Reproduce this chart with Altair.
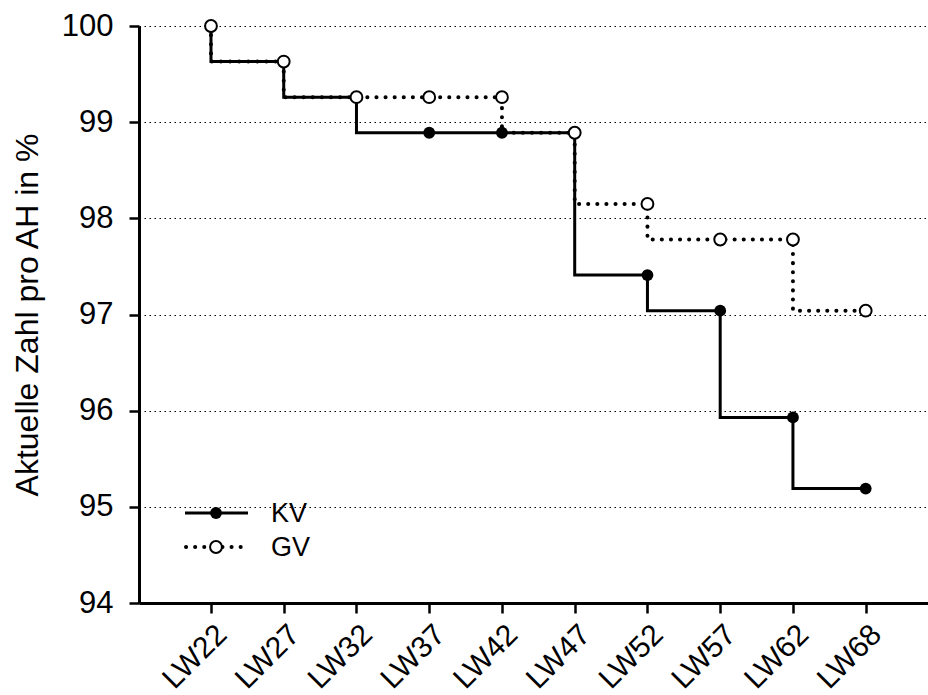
import altair as alt
import pandas as pd

weeks = ["LW22", "LW27", "LW32", "LW37", "LW42", "LW47", "LW52", "LW57", "LW62", "LW68"]
kv = [100.0, 99.63, 99.26, 98.89, 98.89, 98.89, 97.41, 97.04, 95.93, 95.19]
gv = [100.0, 99.63, 99.26, 99.26, 99.26, 98.89, 98.15, 97.78, 97.78, 97.04]
series = ["KV", "GV"]
y_ticks = [94, 95, 96, 97, 98, 99, 100]
y_title = "Aktuelle Zahl pro AH in %"

FONT = "Liberation Sans"
XFS = 30
YFS = 31
TFS = 32
LFS = 27
DOT = [0.1, 9]

df_kv = pd.DataFrame({"week": weeks, "value": kv, "series": "KV"})
df_gv = pd.DataFrame({"week": weeks, "value": gv, "series": "GV"})

xenc = alt.X(
    "week:O",
    sort=weeks,
    scale=alt.Scale(type="point", domain=weeks, padding=0.923, align=0.536),
    axis=alt.Axis(
        title=None, labelAngle=-45, labelFontSize=XFS, labelFont=FONT,
        labelColor="black", tickSize=10, tickWidth=2.5, tickColor="black",
        domainWidth=3, domainColor="black", grid=False, labelPadding=6,
    ),
)
yenc = alt.Y(
    "value:Q",
    scale=alt.Scale(domain=[94, 100], nice=False, zero=False),
    axis=alt.Axis(
        title=y_title, values=y_ticks, format="d", labelFontSize=YFS, labelFont=FONT,
        labelColor="black", titleFont=FONT, titleFontSize=TFS, titleFontWeight="normal",
        titleColor="black", titlePadding=17, tickSize=10, tickWidth=2.5, tickColor="black",
        domainWidth=3, domainColor="black", grid=True, gridColor="black",
        gridDash=[1.5, 3.5], gridWidth=1, labelPadding=16,
    ),
)

base_kv = alt.Chart(df_kv).encode(x=xenc, y=yenc)
base_gv = alt.Chart(df_gv).encode(x=xenc, y=yenc)

line_kv = base_kv.mark_line(interpolate="step-before", color="black", strokeWidth=3)
line_gv = base_gv.mark_line(interpolate="step-before", color="black", strokeWidth=4,
                            strokeDash=DOT, strokeCap="round")
pt_kv = base_kv.mark_point(shape="circle", filled=True, color="black", size=140, opacity=1)
pt_gv = base_gv.mark_point(shape="circle", fill="white", stroke="black", strokeWidth=2,
                           size=140, opacity=1)

# legend (inside plot, lower left)
leg = pd.DataFrame({"series": series})
leg_layers = []
for i, s in enumerate(series):
    d = leg[leg["series"] == s]
    yv = 487 + i * 34
    if s == "KV":
        r = alt.Chart(d).mark_rule(color="black", strokeWidth=3).encode(
            x=alt.value(46), x2=alt.value(109), y=alt.value(yv))
        p = alt.Chart(d).mark_point(shape="circle", filled=True, color="black",
                                    size=140, opacity=1).encode(x=alt.value(77), y=alt.value(yv))
    else:
        r = alt.Chart(d).mark_rule(color="black", strokeWidth=4, strokeDash=DOT,
                                   strokeCap="round").encode(
            x=alt.value(47), x2=alt.value(109), y=alt.value(yv))
        p = alt.Chart(d).mark_point(shape="circle", fill="white", stroke="black",
                                    strokeWidth=2, size=140, opacity=1).encode(
            x=alt.value(77), y=alt.value(yv))
    t = alt.Chart(d).mark_text(align="left", baseline="middle", font=FONT, fontSize=LFS,
                               color="black").encode(
        x=alt.value(132), y=alt.value(yv + 1), text="series:N")
    leg_layers += [r, p, t]

chart = alt.layer(line_kv, line_gv, pt_kv, pt_gv, *leg_layers).properties(
    width=789, height=577,
    autosize=alt.AutoSizeParams(type="none"),
    padding={"left": 139, "top": 26, "right": 0, "bottom": 92},
    background="white",
).configure_view(stroke=None)

chart.save("out.html", embed_options={"renderer": "svg", "actions": False})
